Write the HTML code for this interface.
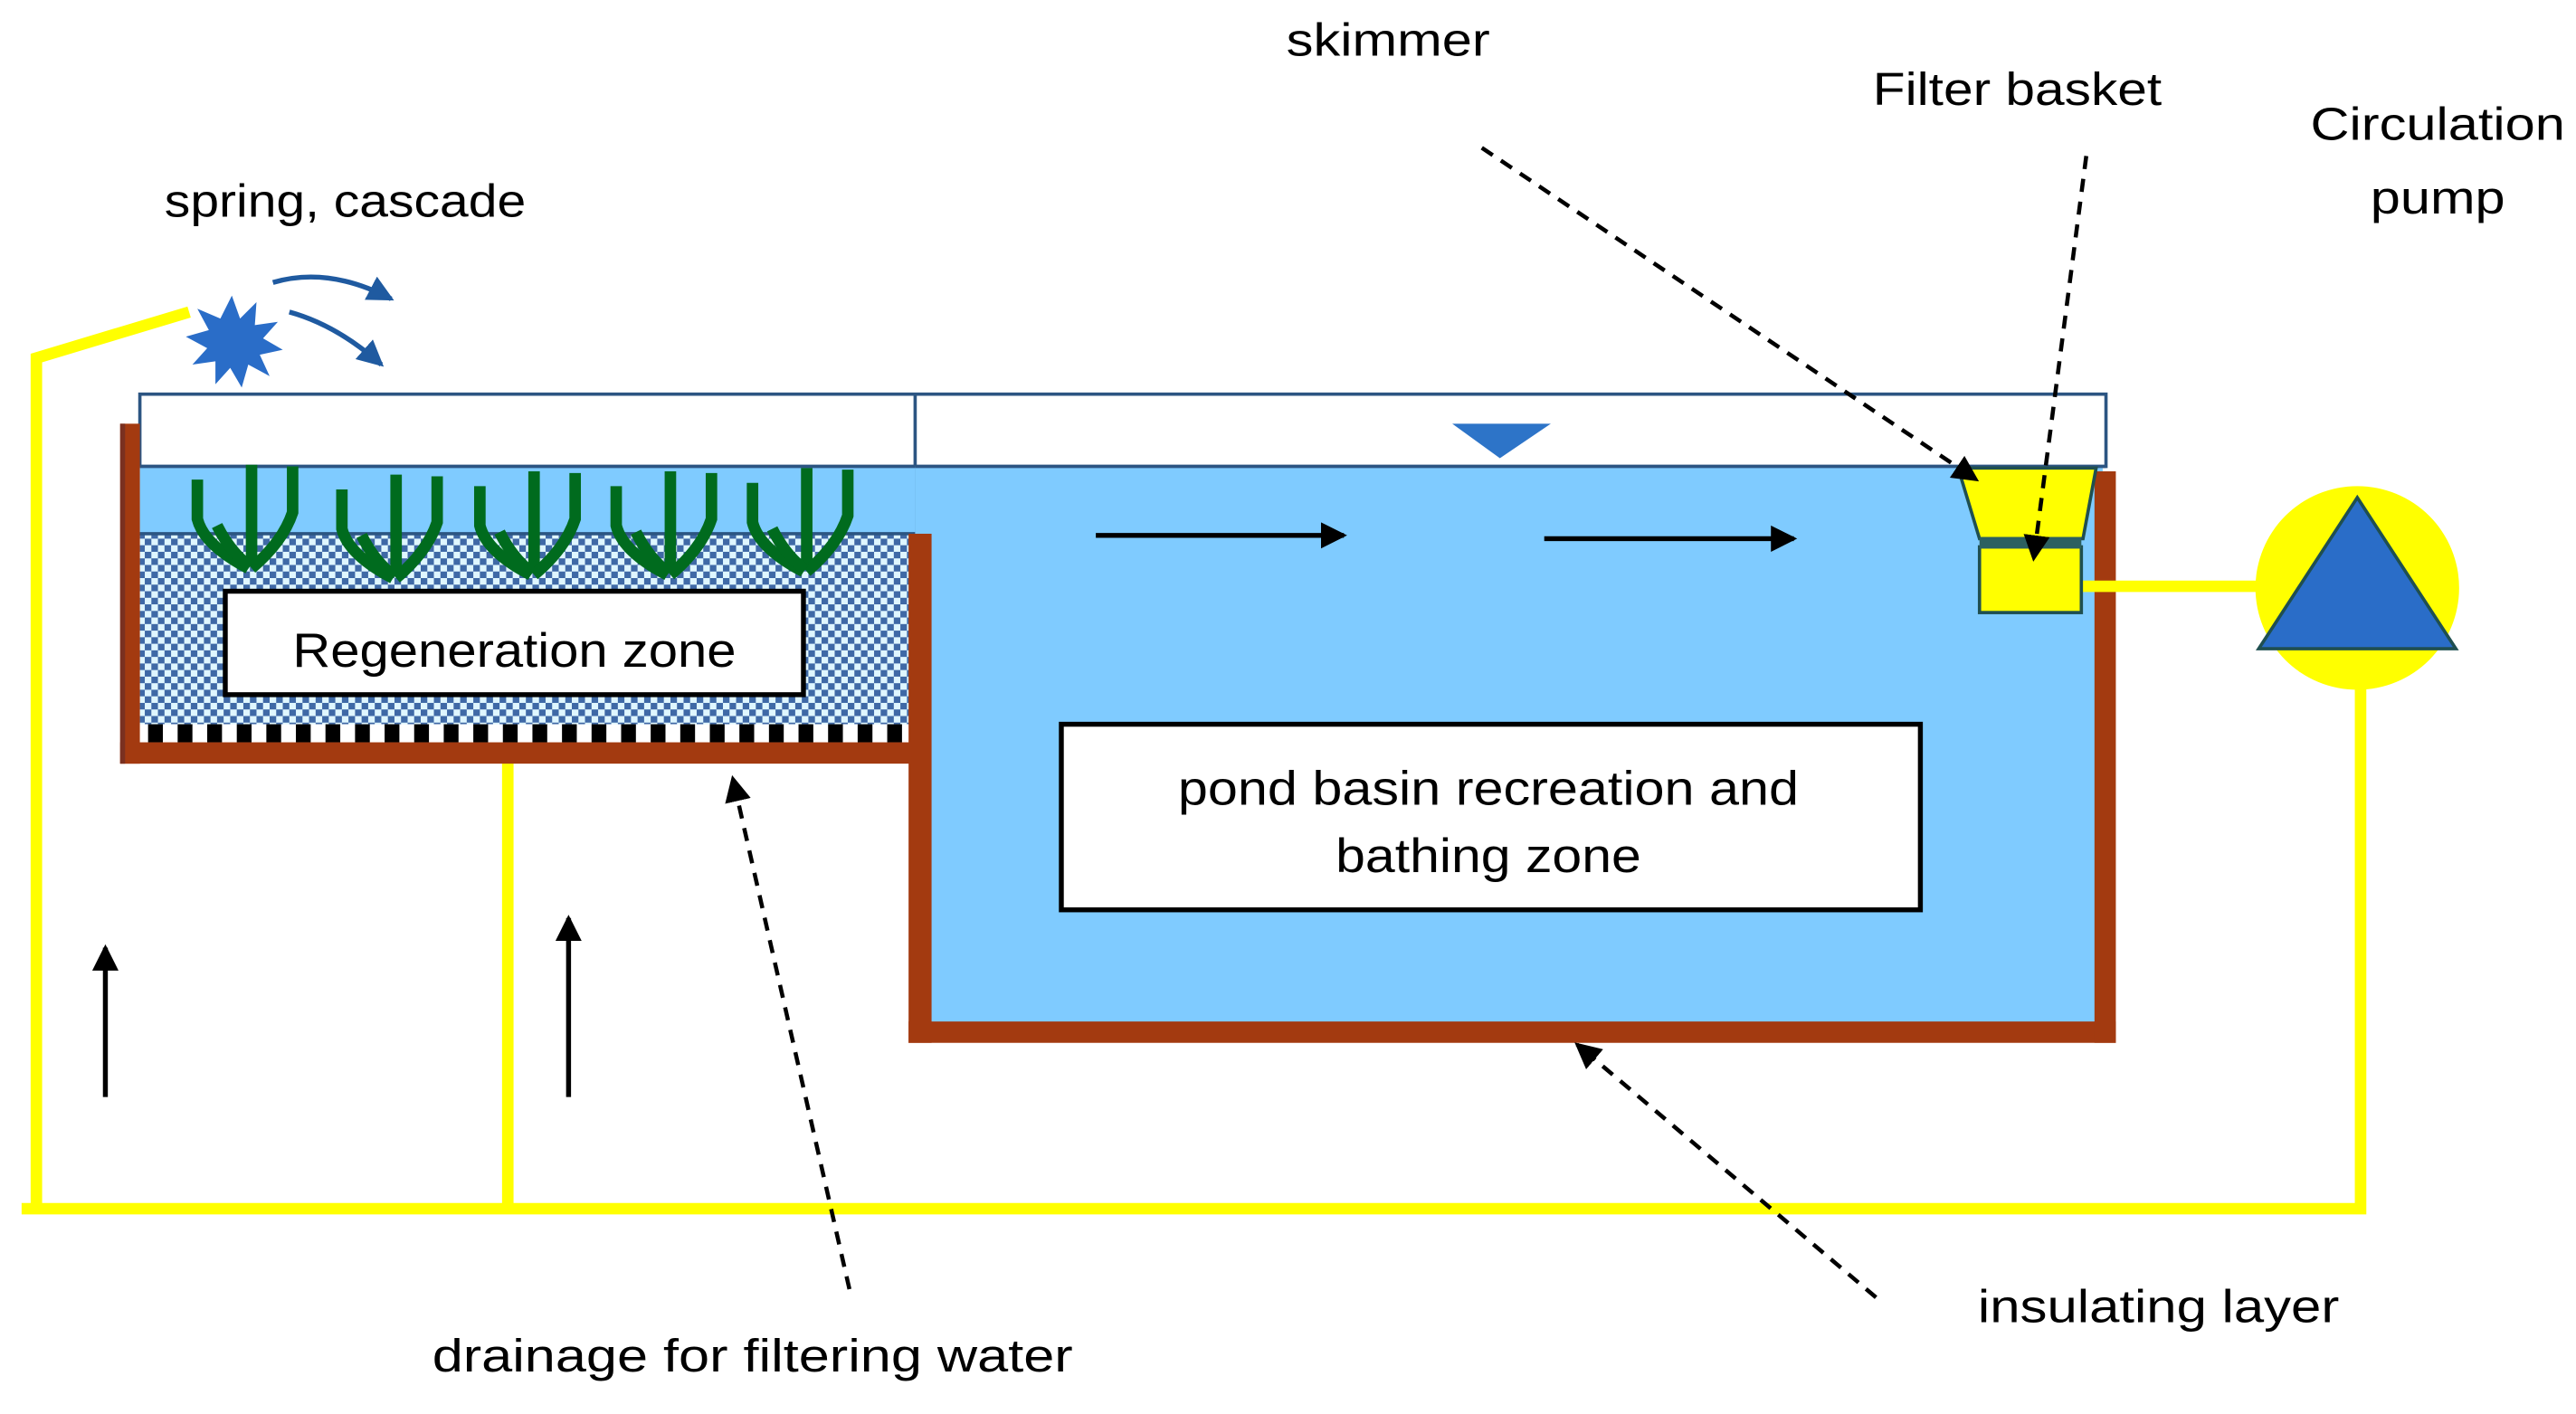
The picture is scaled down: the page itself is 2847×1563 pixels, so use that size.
<!DOCTYPE html>
<html><head><meta charset="utf-8"><style>
html,body{margin:0;padding:0;background:#fff;}
svg{display:block;}
text{font-family:"Liberation Sans",sans-serif;fill:#000;}
</style></head><body>
<svg width="2847" height="1563" viewBox="0 0 1568 861" xmlns="http://www.w3.org/2000/svg">
<defs>
<pattern id="chk" width="8" height="8" patternUnits="userSpaceOnUse">
<rect width="8" height="8" fill="#dff6ff"/>
<rect width="4" height="4" fill="#3f69a6"/>
<rect x="4" y="4" width="4" height="4" fill="#3f69a6"/>
</pattern>
<pattern id="dash" width="18" height="12" patternUnits="userSpaceOnUse">
<rect width="18" height="12" fill="#fff"/>
<rect width="9" height="12" fill="#000"/>
</pattern>
<marker id="ahb" markerWidth="16" markerHeight="16" refX="14" refY="8" orient="auto" markerUnits="userSpaceOnUse">
<path d="M0,0 L16,8 L0,16 z" fill="#000"/>
</marker>
<marker id="ahblue" markerWidth="16" markerHeight="16" refX="14" refY="8" orient="auto" markerUnits="userSpaceOnUse">
<path d="M0,0 L16,8 L0,16 z" fill="#1f5aa0"/>
</marker>
</defs>

<!-- yellow pipes -->
<g stroke="#ffff00" stroke-width="7" fill="none">
<polyline points="13,736 1437,736 1437,410"/>
<polyline points="22,736 22,218 115,190"/>
<line x1="309" y1="736" x2="309" y2="458"/>
</g>

<!-- top frame -->
<rect x="85" y="240" width="1197" height="44" fill="#fff" stroke="#2c5582" stroke-width="2"/>
<line x1="557" y1="240" x2="557" y2="330" stroke="#2c5582" stroke-width="2"/>

<!-- regeneration zone -->
<rect x="85" y="284" width="472" height="41" fill="#7fcbff"/>
<line x1="85" y1="284" x2="557" y2="284" stroke="#2c5582" stroke-width="2"/>
<rect x="85" y="325" width="470" height="116" fill="url(#chk)"/>
<line x1="85" y1="325" x2="557" y2="325" stroke="#2c5582" stroke-width="2"/>
<rect x="85" y="441" width="470" height="11" fill="url(#dash)"/>
<rect x="73" y="452" width="484" height="13" fill="#a33a10"/>
<rect x="73" y="258" width="12" height="207" fill="#a33a10"/>
<rect x="73" y="258" width="3" height="207" fill="#7a3020"/>

<!-- pond -->
<rect x="557" y="284" width="723" height="340" fill="#7fcbff"/>
<line x1="557" y1="284" x2="1282" y2="284" stroke="#2c5582" stroke-width="2"/>
<rect x="553" y="325" width="14" height="310" fill="#a33a10"/>
<rect x="553" y="622" width="735" height="13" fill="#a33a10"/>
<rect x="1275" y="287" width="13" height="348" fill="#a33a10"/>
<line x1="1266" y1="357" x2="1380" y2="357" stroke="#ffff00" stroke-width="7"/>

<!-- water level triangle -->
<path d="M884,258 L944,258 L913,279 z" fill="#2d74c8"/>

<!-- flow arrows -->
<line x1="667" y1="326" x2="818" y2="326" stroke="#000" stroke-width="3" marker-end="url(#ahb)"/>
<line x1="940" y1="328" x2="1092" y2="328" stroke="#000" stroke-width="3" marker-end="url(#ahb)"/>

<!-- plants -->
<g stroke="#006b1e" stroke-width="7" fill="none">
<g id="pl">
<path d="M153,345 L153,283"/>
<path d="M120,292 L120,316 Q124,332 151,346"/>
<path d="M178,284 L178,312 Q172,330 153,346"/>
<path d="M132,320 Q140,336 152,345"/>
</g>
<use href="#pl" x="88" y="6"/>
<use href="#pl" x="172" y="4"/>
<use href="#pl" x="255" y="4"/>
<use href="#pl" x="338" y="2"/>
</g>

<!-- regeneration label -->
<rect x="137" y="360" width="352" height="63" fill="#fff" stroke="#000" stroke-width="3"/>
<text x="313" y="406" font-size="29" text-anchor="middle" textLength="270" lengthAdjust="spacingAndGlyphs">Regeneration zone</text>

<!-- pond label -->
<rect x="646" y="441" width="523" height="113" fill="#fff" stroke="#000" stroke-width="3"/>
<text x="906" y="490" font-size="29" text-anchor="middle" textLength="378" lengthAdjust="spacingAndGlyphs">pond basin recreation and</text>
<text x="906" y="531" font-size="29" text-anchor="middle" textLength="186" lengthAdjust="spacingAndGlyphs">bathing zone</text>

<!-- skimmer / filter basket -->
<path d="M1192,285 L1276,285 L1268,328 L1205,328 z" fill="#ffff00" stroke="#1f4f50" stroke-width="2"/>
<rect x="1205" y="333" width="62" height="40" fill="#ffff00" stroke="#1f4f50" stroke-width="2"/>
<rect x="1205" y="327" width="62" height="7" fill="#2c6060"/>

<!-- pump -->
<circle cx="1435" cy="358" r="62" fill="#ffff00"/>
<path d="M1435,303 L1495,395 L1375,395 z" fill="#2a6dc8" stroke="#1f4f50" stroke-width="2"/>

<!-- spring starburst -->
<path d="M141,180 L146,194 L156,184 L155,198 L169,196 L160,206 L172,213 L158,216 L164,229 L151,222 L147,236 L140,224 L131,234 L131,220 L117,222 L126,212 L113,205 L127,201 L120,188 L134,194 z" fill="#2a6dc8"/>
<path d="M166,172 Q200,162 238,182" stroke="#1f5aa0" stroke-width="3" fill="none" marker-end="url(#ahblue)"/>
<path d="M176,190 Q205,198 232,222" stroke="#1f5aa0" stroke-width="3" fill="none" marker-end="url(#ahblue)"/>

<!-- up arrows -->
<line x1="64" y1="668" x2="64" y2="577" stroke="#000" stroke-width="3" marker-end="url(#ahb)"/>
<line x1="346" y1="668" x2="346" y2="559" stroke="#000" stroke-width="3" marker-end="url(#ahb)"/>

<!-- dashed pointers -->
<g stroke="#000" stroke-width="2.5" stroke-dasharray="8,6" fill="none">
<line x1="902" y1="90" x2="1203" y2="292" marker-end="url(#ahb)"/>
<line x1="1270" y1="95" x2="1238" y2="340" marker-end="url(#ahb)"/>
<line x1="517" y1="785" x2="446" y2="474" marker-end="url(#ahb)"/>
<line x1="1142" y1="790" x2="960" y2="636" marker-end="url(#ahb)"/>
</g>

<!-- labels -->
<text x="845" y="34" font-size="28" text-anchor="middle" textLength="124" lengthAdjust="spacingAndGlyphs">skimmer</text>
<text x="1228" y="64" font-size="28" text-anchor="middle" textLength="176" lengthAdjust="spacingAndGlyphs">Filter basket</text>
<text x="1484" y="85" font-size="28" text-anchor="middle" textLength="155" lengthAdjust="spacingAndGlyphs">Circulation</text>
<text x="1484" y="130" font-size="28" text-anchor="middle" textLength="82" lengthAdjust="spacingAndGlyphs">pump</text>
<text x="210" y="132" font-size="28" text-anchor="middle" textLength="220" lengthAdjust="spacingAndGlyphs">spring, cascade</text>
<text x="458" y="835" font-size="28" text-anchor="middle" textLength="390" lengthAdjust="spacingAndGlyphs">drainage for filtering water</text>
<text x="1314" y="805" font-size="28" text-anchor="middle" textLength="220" lengthAdjust="spacingAndGlyphs">insulating layer</text>
</svg>
</body></html>
